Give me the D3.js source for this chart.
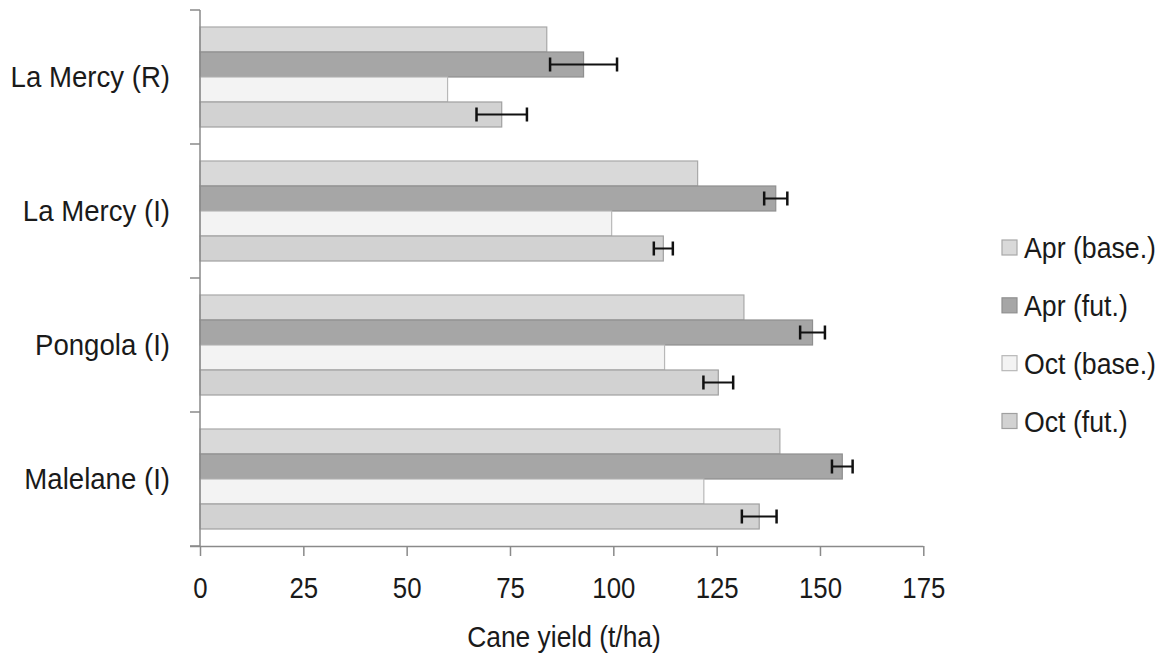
<!DOCTYPE html>
<html>
<head>
<meta charset="utf-8">
<script src="https://cdn.jsdelivr.net/npm/d3@7"></script>
<style>
  html, body { margin: 0; padding: 0; background: #fff; }
  text { font-family: "Liberation Sans", Arial, Helvetica, sans-serif; fill: #1a1a1a; }
</style>
</head>
<body>
<svg id="chart" width="1167" height="657"></svg>
<script>
// ---- data ----
const categories = ["La Mercy (R)", "La Mercy (I)", "Pongola (I)", "Malelane (I)"];
const seriesNames = ["Apr (base.)", "Apr (fut.)", "Oct (base.)", "Oct (fut.)"];
const aprBase = [83.9, 120.4, 131.6, 140.3];
const aprFut  = [92.8, 139.3, 148.2, 155.4];
const octBase = [59.9, 99.6, 112.4, 121.9];
const octFut  = [73.0, 112.1, 125.4, 135.3];
const aprFutErr = [8.1, 2.8, 3.0, 2.5];
const octFutErr = [6.1, 2.3, 3.6, 4.2];
const xTicks = [0, 25, 50, 75, 100, 125, 150, 175];
const xTitle = "Cane yield (t/ha)";

const seriesValues = [aprBase, aprFut, octBase, octFut];
const seriesErrors = [null, aprFutErr, null, octFutErr];
const fills = ["#d9d9d9", "#a6a6a6", "#f3f3f3", "#d2d2d2"];
const strokes = ["#a8a8a8", "#8f8f8f", "#b8b8b8", "#a0a0a0"];

const svg = d3.select("#chart");

const x = d3.scaleLinear().domain([0, 175]).range([200, 923.3]);
const y = d3.scaleBand().domain(categories).range([10, 546]).padding(0);
const ySub = d3.scaleBand().domain(seriesNames).range([0, y.bandwidth()])
  .paddingInner(0).paddingOuter(0.68);

// bars
const rows = [];
categories.forEach((c, ci) => {
  seriesNames.forEach((s, si) => {
    rows.push({ cat: c, ser: s, si: si, v: seriesValues[si][ci],
      err: seriesErrors[si] ? seriesErrors[si][ci] : null });
  });
});

svg.append("g").selectAll("rect").data(rows).join("rect")
  .attr("x", x(0))
  .attr("y", d => y(d.cat) + ySub(d.ser))
  .attr("width", d => x(d.v) - x(0))
  .attr("height", ySub.bandwidth())
  .attr("fill", d => fills[d.si])
  .attr("stroke", d => strokes[d.si])
  .attr("stroke-width", 1.2);

// error bars
const errRows = rows.filter(d => d.err != null);
const eg = svg.append("g").attr("stroke", "#111").attr("stroke-width", 2);
errRows.forEach(d => {
  const cy = y(d.cat) + ySub(d.ser) + ySub.bandwidth() / 2;
  eg.append("line").attr("x1", x(d.v - d.err)).attr("x2", x(d.v + d.err))
    .attr("y1", cy).attr("y2", cy);
  [d.v - d.err, d.v + d.err].forEach(v => {
    eg.append("line").attr("x1", x(v)).attr("x2", x(v))
      .attr("y1", cy - 7).attr("y2", cy + 7).attr("stroke-width", 2.5);
  });
});

// x axis
const xAxis = d3.axisBottom(x).tickValues(xTicks).tickSize(10).tickSizeOuter(0).tickPadding(0);
const gx = svg.append("g").attr("transform", "translate(0,546)").call(xAxis);
gx.select(".domain").attr("stroke", "#8a8a8a").attr("stroke-width", 1.5)
  .attr("d", `M${x(0) - 10},0.5H${x(175)}`);
gx.selectAll(".tick line").attr("stroke", "#8a8a8a").attr("stroke-width", 1.5);
gx.selectAll(".tick text")
  .attr("font-size", 30)
  .attr("y", 52)
  .attr("dy", 0)
  .attr("fill", "#1a1a1a")
  .attr("font-family", "Liberation Sans, Arial, sans-serif")
  .attr("transform", "scale(0.86,1)");

// y axis (band boundaries as ticks)
const boundaries = [10].concat(categories.map(c => y(c) + y.bandwidth()));
const gy = svg.append("g");
gy.append("line").attr("x1", 200).attr("x2", 200).attr("y1", 10).attr("y2", 546)
  .attr("stroke", "#8a8a8a").attr("stroke-width", 1.5);
gy.selectAll("line.tk").data(boundaries).join("line").attr("class", "tk")
  .attr("x1", 190).attr("x2", 200).attr("y1", d => d).attr("y2", d => d)
  .attr("stroke", "#8a8a8a").attr("stroke-width", 1.5);

// category labels
svg.append("g").selectAll("text").data(categories).join("text")
  .attr("transform", d => `translate(170,${y(d) + y.bandwidth() / 2 + 10}) scale(0.92,1)`)
  .attr("text-anchor", "end")
  .attr("font-size", 30)
  .text(d => d);

// axis title
svg.append("text")
  .attr("transform", "translate(564,647) scale(0.88,1)")
  .attr("text-anchor", "middle")
  .attr("font-size", 30)
  .text(xTitle);

// legend
const legY = d3.scalePoint().domain(seriesNames).range([247.5, 421]);
const lg = svg.append("g");
seriesNames.forEach((s, i) => {
  lg.append("rect").attr("x", 1002).attr("y", legY(s) - 7.5).attr("width", 15).attr("height", 15)
    .attr("fill", fills[i]).attr("stroke", strokes[i]).attr("stroke-width", 1.2);
  lg.append("text").attr("transform", `translate(1024,${legY(s) + 10.5}) scale(0.89,1)`)
    .attr("font-size", 30).text(s);
});
</script>
</body>
</html>
